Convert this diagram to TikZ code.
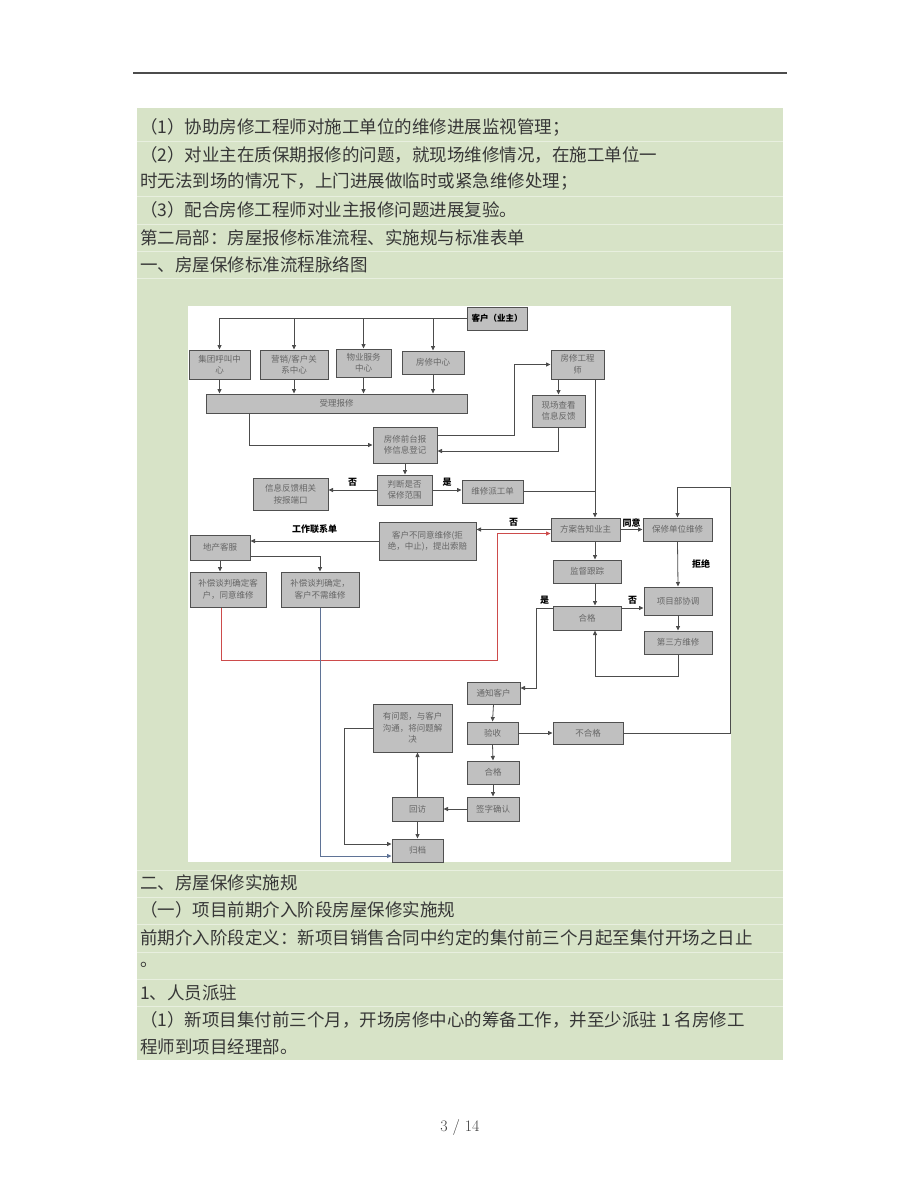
\documentclass[tikz,border=0pt]{standalone}
\usepackage{xcolor}
\usepackage{fontspec}
\usepackage{tikz}
\usetikzlibrary{arrows.meta}

\newfontfamily\cjk{Noto Sans CJK SC}
\definecolor{pagegreen}{RGB}{215,227,199}
\definecolor{rowline}{RGB}{232,239,223}
\definecolor{boxgray}{RGB}{192,192,192}
\definecolor{boxline}{RGB}{80,80,80}
\definecolor{redline}{RGB}{205,75,75}
\definecolor{blueline}{RGB}{95,115,150}
\definecolor{txtgray}{RGB}{55,55,55}

\begin{document}
\begin{tikzpicture}[x=1pt,y=-1pt,
    box/.style={draw=boxline,fill=boxgray,line width=1pt,inner sep=1pt,align=center,
        font=\cjk\fontsize{8.5}{11.5}\selectfont,text=black!60},
    lbl/.style={font=\cjk\bfseries\fontsize{9}{10}\selectfont,text=black,inner sep=1pt},
    para/.style={anchor=west,inner sep=0pt,font=\cjk\fontsize{17.5}{20}\selectfont,text=txtgray},
    ln/.style={draw=black!70,line width=0.8pt},
    arr/.style={ln,-{Triangle[length=4.5pt,width=4pt]}}]
    \useasboundingbox (0,0) rectangle (920,1191);
    \fill[white] (0,0) rectangle (920,1191);
    \draw[black!70,line width=1.2pt] (133,73) -- (787,73);
    \fill[pagegreen] (137,108) rectangle (783,1060);
    \draw[rowline,line width=0.8pt] (137,141) -- (783,141) (137,196) -- (783,196) (137,224) -- (783,224)
        (137,251) -- (783,251) (137,278) -- (783,278) (137,870) -- (783,870) (137,897) -- (783,897)
        (137,924) -- (783,924) (137,952) -- (783,952) (137,979) -- (783,979) (137,1006) -- (783,1006);
    \fill[white] (188,306) rectangle (731,862);

    \node[para] (p1) at (140,127) {（1）协助房修工程师对施工单位的维修进展监视管理；};
    \node[para] (p2) at (140,155) {（2）对业主在质保期报修的问题，就现场维修情况，在施工单位一};
    \node[para] (p3) at (140,182) {时无法到场的情况下，上门进展做临时或紧急维修处理；};
    \node[para] (p4) at (140,210) {（3）配合房修工程师对业主报修问题进展复验。};
    \node[para] (p5) at (140,238) {第二局部：房屋报修标准流程、实施规与标准表单};
    \node[para] (p6) at (140,265) {一、房屋保修标准流程脉络图};
    \node[para] (p7) at (140,883) {二、房屋保修实施规};
    \node[para] (p8) at (140,910) {（一）项目前期介入阶段房屋保修实施规};
    \node[para] (p9) at (140,938) {前期介入阶段定义：新项目销售合同中约定的集付前三个月起至集付开场之日止};
    \node[para] (p10) at (140,965) {。};
    \node[para] (p11) at (140,993) {1、人员派驻};
    \node[para] (p12) at (140,1020) {（1）新项目集付前三个月，开场房修中心的筹备工作，并至少派驻 1 名房修工};
    \node[para] (p13) at (140,1047) {程师到项目经理部。};
    \node[font=\fontsize{16}{18}\selectfont,text=black!75] (pagenum) at (460,1127) {3 / 14};

    \node[box,minimum width=60,minimum height=23,text=black,font=\cjk\bfseries\fontsize{8.5}{10}\selectfont] (kehu) at (497,318.5) {客户（业主）};
    \node[box,minimum width=61,minimum height=29] (jituan) at (219.5,364.5) {集团呼叫中\\心};
    \node[box,minimum width=68,minimum height=29] (yingxiao) at (294,364.5) {营销/客户关\\系中心};
    \node[box,minimum width=55,minimum height=28] (wuye) at (363.5,363) {物业服务\\中心};
    \node[box,minimum width=62,minimum height=23] (fangxiu) at (433,362.5) {房修中心};
    \node[box,minimum width=261,minimum height=19] (shouli) at (336.5,403.5) {受理报修};
    \node[box,minimum width=53,minimum height=29] (gcs) at (577.5,364.5) {房修工程\\师};
    \node[box,minimum width=53,minimum height=32] (xianchang) at (558.5,411) {现场查看\\信息反馈};
    \node[box,minimum width=64,minimum height=36] (qiantai) at (405,445) {房修前台报\\修信息登记};
    \node[box,minimum width=55,minimum height=30] (panduan) at (404.5,490) {判断是否\\保修范围};
    \node[box,minimum width=75,minimum height=32] (xinxi) at (290.5,494) {信息反馈相关\\按报端口};
    \node[box,minimum width=61,minimum height=23] (paigong) at (492.5,491.5) {维修派工单};
    \node[box,minimum width=69,minimum height=23] (fangan) at (585.5,529.5) {方案告知业主};
    \node[box,minimum width=97,minimum height=38] (butong) at (427.5,541) {客户不同意维修(拒\\绝，中止)，提出索赔};
    \node[box,minimum width=60,minimum height=25] (dichan) at (220,547.5) {地产客服};
    \node[box,minimum width=76,minimum height=35] (buchang1) at (228,589.5) {补偿谈判确定客\\户，同意维修};
    \node[box,minimum width=78,minimum height=35] (buchang2) at (320,589.5) {补偿谈判确定，\\客户不需维修};
    \node[box,minimum width=69,minimum height=23] (baoxiu) at (677.5,529.5) {保修单位维修};
    \node[box,minimum width=68,minimum height=23] (jiandu) at (587,571.5) {监督跟踪};
    \node[box,minimum width=68,minimum height=24] (hege1) at (587,618) {合格};
    \node[box,minimum width=68,minimum height=28] (xiangmu) at (678,601) {项目部协调};
    \node[box,minimum width=68,minimum height=23] (disanfang) at (678,642.5) {第三方维修};
    \node[box,minimum width=53,minimum height=22] (tongzhi) at (493.5,693) {通知客户};
    \node[box,minimum width=51,minimum height=22] (yanshou) at (492.5,733) {验收};
    \node[box,minimum width=70,minimum height=22] (buhege) at (588,733) {不合格};
    \node[box,minimum width=52,minimum height=23] (hege2) at (493,772.5) {合格};
    \node[box,minimum width=52,minimum height=24] (qianzi) at (493,809) {签字确认};
    \node[box,minimum width=51,minimum height=24] (huifang) at (417.5,809) {回访};
    \node[box,minimum width=79,minimum height=48] (youwenti) at (412.5,728) {有问题，与客户\\沟通，将问题解\\决};
    \node[box,minimum width=51,minimum height=23] (guidang) at (417.5,850.5) {归档};
    \coordinate (vx) at (595,0);

    \draw[arr] (kehu.west) -| (jituan.north);
    \draw[arr] (kehu.west -| yingxiao.north) -- (yingxiao.north);
    \draw[arr] (kehu.west -| wuye.north) -- (wuye.north);
    \draw[arr] (kehu.west -| fangxiu.north) -- (fangxiu.north);
    \draw[arr] (jituan.south) -- (jituan.south |- shouli.north);
    \draw[arr] (yingxiao.south) -- (yingxiao.south |- shouli.north);
    \draw[arr] (wuye.south) -- (wuye.south |- shouli.north);
    \draw[arr] (fangxiu.south) -- (fangxiu.south |- shouli.north);
    \draw[arr] ([xshift=-87.5pt]shouli.south) |- (qiantai.west);
    \draw[arr] ([yshift=10pt]qiantai.east) -- ++(77,0) |- (gcs.west);
    \draw[arr] (gcs.south -| xianchang.north) -- (xianchang.north);
    \draw[arr] (xianchang.south) |- ([yshift=-6pt]qiantai.east);
    \draw[arr] (qiantai.south) -- (qiantai.south |- panduan.north);
    \draw[arr] (panduan.west) -- node[lbl,above=2pt] (lfou1) {否} (panduan.west -| xinxi.east);
    \draw[arr] (panduan.east) -- node[lbl,above=2pt] (lshi1) {是} (panduan.east -| paigong.west);
    \draw[ln] (paigong.east) -- (paigong.east -| vx);
    \draw[arr] (gcs.south -| vx) -- (fangan.north -| vx);
    \draw[arr] (fangan.west) -- node[lbl,above=2pt] (lfou2) {否} (fangan.west -| butong.east);
    \draw[arr] (butong.west) -- node[lbl,above=6pt] (lgzlxd) {工作联系单} (butong.west -| dichan.east);
    \draw[arr] (dichan.south) -- (dichan.south |- buchang1.north);
    \draw[arr] ([yshift=-8.5pt]dichan.east) -| (buchang2.north);
    \draw[arr,draw=redline] ([xshift=-7pt]buchang1.south) -- ++(0,53) -- ++(276,0) |- ([yshift=-4pt]fangan.west);
    \draw[arr,draw=blueline] (buchang2.south) |- ([yshift=-5.5pt]guidang.west);
    \draw[arr] (fangan.east) -- node[lbl,above=1pt] (ltongyi) {同意} (baoxiu.west);
    \draw[arr] (baoxiu.south) -- node[lbl,right=13pt] (ljujue) {拒绝} (xiangmu.north);
    \draw[arr] (xiangmu.south) -- (disanfang.north);
    \draw[arr] (fangan.south -| vx) -- (jiandu.north -| vx);
    \draw[arr] (jiandu.south -| vx) -- (hege1.north -| vx);
    \draw[arr] ([yshift=10pt]hege1.east) -- node[lbl,above=2pt] (lfou3) {否} ([yshift=10pt]hege1.east -| xiangmu.west);
    \draw[arr] (disanfang.south) -- ++(0,22) -| (hege1.south -| vx);
    \draw[arr] ([yshift=10pt]hege1.west) -- node[lbl,above=2pt] (lshi2) {是} ++(-16,0) |- ([yshift=5pt]tongzhi.east);
    \draw[arr] (tongzhi.south) -- (yanshou.north);
    \draw[arr] (yanshou.east) -- (buhege.west);
    \draw[arr] (buhege.east) -- ++(107,0) -- ++(0,-246) -| (baoxiu.north);
    \draw[arr] (yanshou.south) -- (hege2.north);
    \draw[arr] (hege2.south) -- (qianzi.north);
    \draw[arr] (qianzi.west) -- (huifang.east);
    \draw[arr] (huifang.north) -- (huifang.north |- youwenti.south);
    \draw[arr] (huifang.south) -- (guidang.north);
    \draw[arr] (youwenti.west) -- ++(-28,0) |- ([yshift=6.5pt]guidang.west);
\end{tikzpicture}
\end{document}
